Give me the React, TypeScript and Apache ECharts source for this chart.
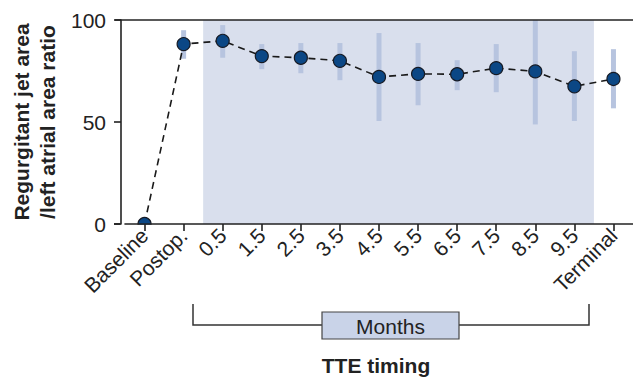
import React, { useEffect, useRef } from "react";
import * as echarts from "echarts";

const categories = ["Baseline", "Postop.", "0.5", "1.5", "2.5", "3.5", "4.5", "5.5", "6.5", "7.5", "8.5", "9.5", "Terminal"];
const ratioMean = [0, 88.2, 89.8, 82.3, 81.5, 80.0, 72.1, 73.6, 73.4, 76.4, 74.8, 67.5, 71.1];
const errLow = [0, 81, 81.5, 75.9, 73.9, 70.5, 50.5, 58.2, 65.6, 64.6, 48.8, 50.5, 56.7];
const errHigh = [0, 95, 97.5, 88.2, 88.7, 88.7, 93.6, 88.7, 80.3, 88.2, 100, 84.7, 85.7];
// months band: first category, last category, top value
const monthsBand = ["0.5", "9.5", 100];
const yTicks = [0, 50, 100];

const FONT = "'Liberation Sans', Arial, Helvetica, sans-serif";
const AXIS = "#222222";
const BAND = "#d9dfed";

export default function App() {
  const ref = useRef<HTMLDivElement>(null);
  useEffect(() => {
    if (!ref.current) return;
    const chart = echarts.init(ref.current, null, { renderer: "svg" });
    const errData = categories
      .map((_, i) => [i, errLow[i], errHigh[i]])
      .filter((d) => d[2] > d[1]);
    const bandData = [[categories.indexOf(monthsBand[0] as string), categories.indexOf(monthsBand[1] as string), monthsBand[2]]];
    chart.setOption({
      animation: false,
      textStyle: { fontFamily: FONT },
      grid: { left: 119, right: 0, top: 20, bottom: 155, containLabel: false },
      xAxis: {
        type: "category",
        data: categories,
        boundaryGap: true,
        z: 60,
        axisLine: { show: true, lineStyle: { color: AXIS, width: 1.6 } },
        axisTick: { show: true, alignWithLabel: true, length: 7, lineStyle: { color: AXIS, width: 1.6 } },
        axisLabel: { rotate: 45, fontSize: 21, color: AXIS, margin: 8, fontFamily: FONT, interval: 0 },
        splitLine: { show: false },
      },
      yAxis: {
        type: "value",
        min: 0,
        max: 100,
        interval: 50,
        offset: 4,
        z: 60,
        name: "Regurgitant jet area\n/left atrial area ratio",
        nameLocation: "middle",
        nameRotate: 90,
        nameGap: 61,
        nameTextStyle: { fontSize: 21, fontWeight: "bold", color: AXIS, lineHeight: 26, fontFamily: FONT },
        axisLine: { show: true, lineStyle: { color: AXIS, width: 1.6 } },
        axisTick: { show: true, length: 7, lineStyle: { color: AXIS, width: 1.6 } },
        axisLabel: {
          fontSize: 21,
          color: AXIS,
          margin: 15,
          fontFamily: FONT,
          formatter: (v: number) => (yTicks.includes(v) ? String(v) : ""),
        },
        splitLine: { show: false },
      },
      graphic: [
        { type: "rect", shape: { x: 119, y: 224.8, width: 514, height: 14 }, style: { fill: "#ffffff" }, z: 50 },
        { type: "line", shape: { x1: 115, y1: 20, x2: 633, y2: 20 }, style: { stroke: AXIS, lineWidth: 1.6 }, z: 100 },
        { type: "line", shape: { x1: 114, y1: 224, x2: 120, y2: 224 }, style: { stroke: AXIS, lineWidth: 1.6 }, z: 100 },
        {
          type: "polyline",
          shape: { points: [[193, 304], [193, 325], [589, 325], [589, 304]] },
          style: { stroke: "#333", lineWidth: 1.5, fill: null },
        },
        { type: "rect", shape: { x: 322, y: 312, width: 137, height: 27 }, style: { fill: "#c9d3e8", stroke: "#444", lineWidth: 1.2 } },
        {
          type: "text",
          x: 390.5,
          y: 326,
          style: { text: "Months", fontSize: 21, fill: "#222", align: "center", verticalAlign: "middle", fontFamily: FONT },
        },
        {
          type: "text",
          x: 376,
          y: 365,
          style: { text: "TTE timing", fontSize: 21, fontWeight: "bold", fill: "#222", align: "center", verticalAlign: "middle", fontFamily: FONT },
        },
      ],
      series: [
        {
          type: "custom",
          data: bandData,
          silent: true,
          z: 1,
          renderItem: (params: any, api: any) => {
            const bw = api.size([1, 0])[0];
            const p0 = api.coord([api.value(0), api.value(2)]);
            const p1 = api.coord([api.value(1), 0]);
            return {
              type: "rect",
              shape: { x: p0[0] - bw / 2, y: p0[1], width: p1[0] - p0[0] + bw, height: p1[1] - p0[1] },
              style: { fill: BAND },
            };
          },
        },
        {
          type: "custom",
          data: errData,
          z: 2,
          renderItem: (params: any, api: any) => {
            const x = api.value(0);
            const top = api.coord([x, api.value(2)]);
            const bot = api.coord([x, api.value(1)]);
            return {
              type: "rect",
              shape: { x: top[0] - 2.5, y: top[1], width: 5, height: bot[1] - top[1] },
              style: { fill: "#b7c4df" },
            };
          },
        },
        {
          type: "line",
          data: ratioMean,
          z: 3,
          symbol: "circle",
          symbolSize: 13,
          itemStyle: { color: "#0b4785", borderColor: "#161a24", borderWidth: 1.2 },
          lineStyle: { color: "#1a1a1a", width: 1.6, type: [7, 5] },
          clip: false,
        },
      ],
    });
    return () => chart.dispose();
  }, []);
  return <div ref={ref} style={{ width: 633, height: 379, position: "absolute", left: 0, top: 0 }} />;
}
